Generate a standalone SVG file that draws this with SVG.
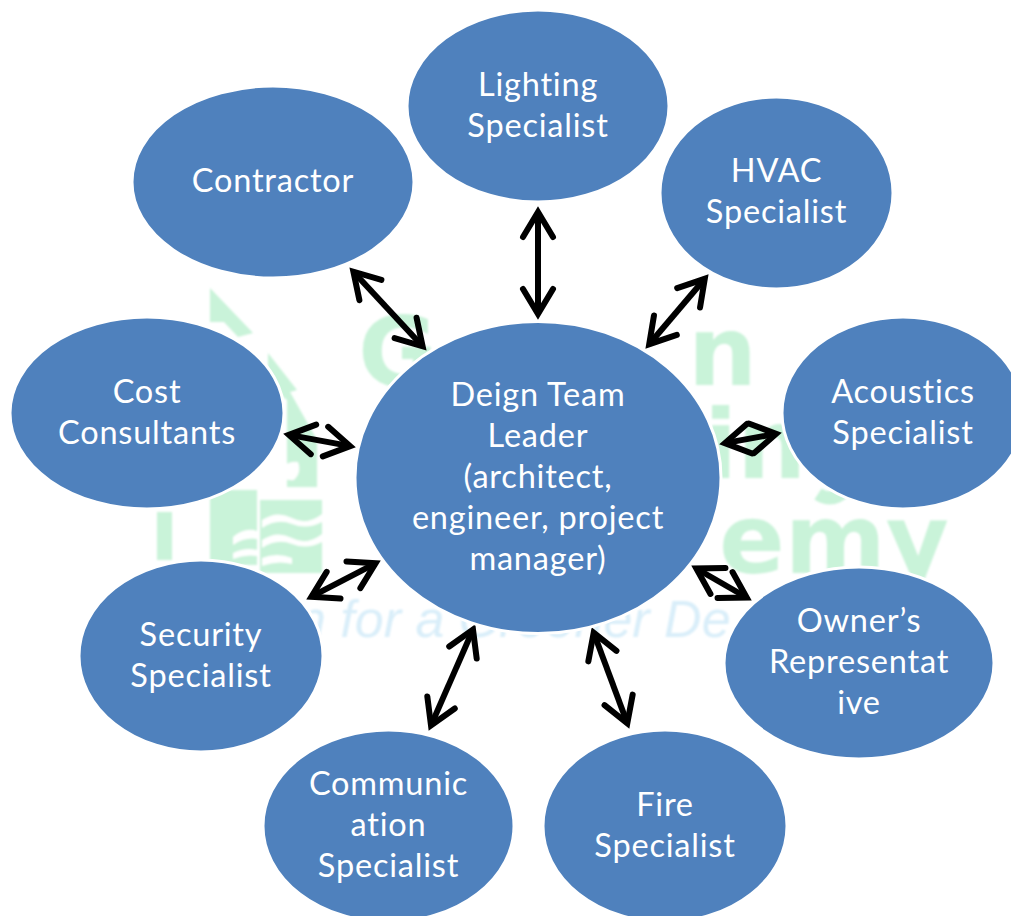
<svg xmlns="http://www.w3.org/2000/svg" width="1011" height="916" viewBox="0 0 1011 916">
<style>
.n{fill:#4f81bd;stroke:#fff;stroke-width:3}
.t{fill:#fff;font-family:"Lato","Open Sans",sans-serif;font-size:32.5px;text-anchor:middle;letter-spacing:.8px}
.w{fill:#c9f3d9;font-family:"DejaVu Sans",sans-serif;font-weight:bold;font-size:97px}
.g{fill:#c9f3d9}
.v{fill:#fff}
.b{fill:#d9eef9;font-family:"Liberation Sans",sans-serif;font-style:italic;font-size:52px}
.a{stroke:#000;stroke-width:6;fill:none;marker-start:url(#h);marker-end:url(#h)}
</style>
<defs>
<marker id="h" markerUnits="userSpaceOnUse" markerWidth="70" markerHeight="70" refX="35" refY="35" orient="auto-start-reverse" viewBox="0 0 70 70">
<path d="M10,20L35,35L10,50" fill="none" stroke="#000" stroke-width="6" stroke-linecap="round"/>
</marker>
<filter id="s"><feGaussianBlur stdDeviation="1"/></filter>
</defs>
<rect width="1011" height="916" fill="#fff"/>
<g id="watermark" filter="url(#s)">
<polygon class="g" points="210,288 253,333 238,337 224,322 210,322"/>
<polygon class="g" points="268,353 297,390 290,392 317,440 317,487 287,487 287,400 268,385"/>
<rect class="g" x="157" y="512" width="15" height="48"/>
<rect class="g" x="210" y="490" width="47" height="75"/>
<rect class="g" x="260" y="500" width="62" height="73"/>
<path class="v" d="M262,520q15,-10 30,-2t30,-4v8q-15,8 -30,2t-30,4zM262,540q15,-10 30,-2t30,-4v8q-15,8 -30,2t-30,4zM262,558q15,-6 30,0v6q-15,-4 -30,2zM233,537q12,-10 24,-6v8q-12,-2 -24,6zM233,553q12,-6 24,-3v6q-12,-2 -24,3zM280,470q8,-10 18,-8q4,10 -4,18q-10,2 -14,-10z"/>
<text class="w" x="358" y="386">G</text>
<text class="w" x="688" y="385">n</text>
<text class="w" x="704" y="478">in</text>
<path d="M818,494q15,10 30,-6" fill="none" stroke="#c9f3d9" stroke-width="13"/>
<text class="w" x="719" y="573">emy</text>
<text class="b" x="297" y="637">n for a Greener De</text>
</g>
<g id="connectors">
<line class="a" x1="538" y1="212" x2="538" y2="314"/>
<line class="a" x1="353.4" y1="271.7" x2="422.6" y2="346.3"/>
<line class="a" x1="704.8" y1="278.8" x2="649.2" y2="344.2"/>
<line class="a" x1="724.9" y1="443.1" x2="776.1" y2="433.9"/>
<line class="a" x1="696.3" y1="568.5" x2="746.7" y2="597.5"/>
<line class="a" x1="288.9" y1="434.9" x2="350.1" y2="446.1"/>
<line class="a" x1="311.4" y1="596.7" x2="375.6" y2="563.3"/>
<line class="a" x1="431" y1="725.4" x2="473" y2="629.6"/>
<line class="a" x1="593.7" y1="632.7" x2="627.3" y2="723.3"/>
</g>
<g id="lighting"><ellipse class="n" cx="538" cy="106" rx="131" ry="96"/><text class="t" x="538" y="96">Lighting</text><text class="t" x="538" y="137">Specialist</text></g>
<g id="contractor"><ellipse class="n" cx="273" cy="182" rx="141" ry="96"/><text class="t" x="273" y="192">Contractor</text></g>
<g id="hvac"><ellipse class="n" cx="776.5" cy="193" rx="116.500" ry="96"/><text class="t" x="776.500" y="182">HVAC</text><text class="t" x="776.500" y="223">Specialist</text></g>
<g id="acoustics"><ellipse class="n" cx="903" cy="413" rx="121" ry="96"/><text class="t" x="903" y="403">Acoustics</text><text class="t" x="903" y="444">Specialist</text></g>
<g id="cost"><ellipse class="n" cx="147" cy="413" rx="137" ry="96"/><text class="t" x="147" y="403">Cost</text><text class="t" x="147" y="444">Consultants</text></g>
<g id="leader"><ellipse class="n" cx="538" cy="477.500" rx="183" ry="156"/><text class="t" x="538" y="406">Deign Team</text><text class="t" x="538" y="447">Leader</text><text class="t" x="538" y="488">(architect,</text><text class="t" x="538" y="529">engineer, project</text><text class="t" x="538" y="570">manager)</text></g>
<g id="security"><ellipse class="n" cx="201" cy="656" rx="122" ry="96"/><text class="t" x="201" y="646">Security</text><text class="t" x="201" y="687">Specialist</text></g>
<g id="owner"><ellipse class="n" cx="859" cy="663" rx="135" ry="96"/><text class="t" x="859" y="632">Owner’s</text><text class="t" x="859" y="673">Representat</text><text class="t" x="859" y="714">ive</text></g>
<g id="communication"><ellipse class="n" cx="388.500" cy="826" rx="125.500" ry="96"/><text class="t" x="388.500" y="795">Communic</text><text class="t" x="388.500" y="836">ation</text><text class="t" x="388.500" y="877">Specialist</text></g>
<g id="fire"><ellipse class="n" cx="665" cy="826" rx="122" ry="96"/><text class="t" x="665" y="816">Fire</text><text class="t" x="665" y="857">Specialist</text></g>
</svg>
